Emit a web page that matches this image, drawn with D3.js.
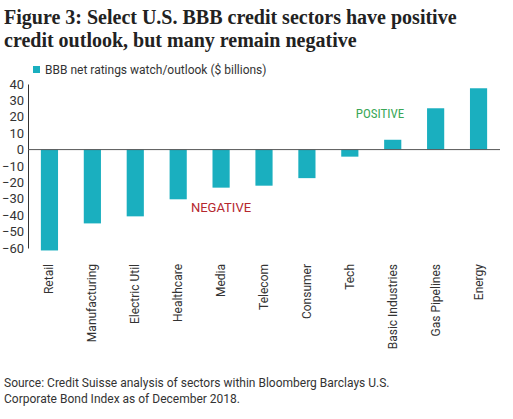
<!DOCTYPE html><html><head><meta charset="utf-8"><script src="https://cdn.jsdelivr.net/npm/d3@7"></script>
<style>body{margin:0;background:#fff}</style></head><body><svg id="c" width="513" height="419"></svg>
<script>
const categories=["Retail","Manufacturing","Electric Util","Healthcare","Media","Telecom","Consumer","Tech","Basic Industries","Gas Pipelines","Energy"];
const values=[-61.5,-45,-40.7,-30.3,-23.2,-22,-17.4,-4.3,6,25.2,37.4];
const ticks=[40,30,20,10,0,-10,-20,-30,-40,-50,-60];
const svg=d3.select("#c");
const col="#1aafbf";
svg.append("text").attr("x",4).attr("y",24).attr("font-family","Liberation Serif").attr("font-size",20).attr("font-weight","bold").attr("fill","#222").text("Figure 3: Select U.S. BBB credit sectors have positive");
svg.append("text").attr("x",4).attr("y",47).attr("font-family","Liberation Serif").attr("font-size",20).attr("font-weight","bold").attr("fill","#222").text("credit outlook, but many remain negative");
svg.append("rect").attr("x",33).attr("y",66).attr("width",7).attr("height",7).attr("fill",col);
svg.append("text").attr("x",45).attr("y",74).attr("font-family","Roboto").attr("font-size",12).attr("fill","#333").text("BBB net ratings watch/outlook ($ billions)");
const y=d3.scaleLinear().domain([-60,40]).range([248,84]);
const x=d3.scaleBand().domain(categories).range([28,500]).paddingInner(0.6).paddingOuter(0.3);
const ax=svg.append("g").attr("transform","translate(28,0)").call(d3.axisLeft(y).tickValues(ticks).tickSize(0).tickPadding(4));
ax.select(".domain").attr("stroke","#333");
ax.selectAll("text").attr("font-family","Roboto").attr("font-size",13).attr("fill","#333");
svg.selectAll(".b").data(values).join("rect").attr("x",(d,i)=>x(categories[i])).attr("width",x.bandwidth())
 .attr("y",d=>y(Math.max(0,d))).attr("height",d=>Math.abs(y(d)-y(0))).attr("fill",col);
svg.append("line").attr("x1",28).attr("x2",500).attr("y1",y(0)).attr("y2",y(0)).attr("stroke","#555");
svg.selectAll(".l").data(categories).join("text").attr("transform",d=>`translate(${x(d)+x.bandwidth()/2+4},264) rotate(-90)`)
 .attr("text-anchor","end").attr("font-family","Roboto").attr("font-size",12).attr("fill","#333").text(d=>d);
svg.append("text").attr("x",380).attr("y",118).attr("text-anchor","middle").attr("font-family","Roboto Condensed, Roboto").attr("font-size",13).attr("fill","#3aa757").text("POSITIVE");
svg.append("text").attr("x",221).attr("y",212).attr("text-anchor","middle").attr("font-family","Roboto").attr("font-size",13).attr("fill","#b5282e").text("NEGATIVE");
svg.append("text").attr("x",4).attr("y",387).attr("font-family","Roboto").attr("font-size",12).attr("fill","#333").text("Source: Credit Suisse analysis of sectors within Bloomberg Barclays U.S.");
svg.append("text").attr("x",4).attr("y",403).attr("font-family","Roboto").attr("font-size",12).attr("fill","#333").text("Corporate Bond Index as of December 2018.");
</script></body></html>
